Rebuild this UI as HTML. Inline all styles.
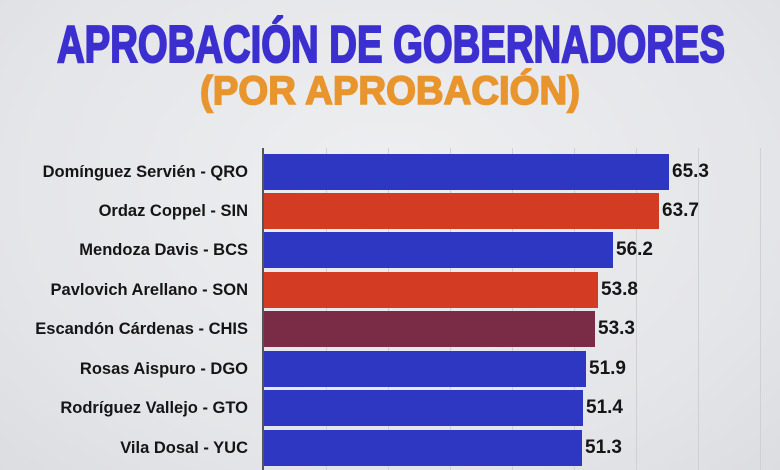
<!DOCTYPE html>
<html><head><meta charset="utf-8"><style>
body{margin:0;width:780px;height:470px;overflow:hidden;background:radial-gradient(ellipse at 50% 40%,#eeeff1 0%,#e4e5e8 70%,#dcdde1 100%);font-family:"Liberation Sans",sans-serif;position:relative}
.lab{position:absolute;right:532px;font-weight:bold;font-size:16.5px;color:#151515;white-space:nowrap;line-height:20px}
.bar{position:absolute;left:264px;height:36px}
.v{position:absolute;font-weight:bold;font-size:19px;color:#151515;line-height:22px}
.g{position:absolute;top:148px;width:1px;height:322px;background:#cfd0d6}
</style></head><body>
<svg style="position:absolute;left:0;top:0" width="780" height="120">
<text x="57" y="62" textLength="668" lengthAdjust="spacingAndGlyphs" font-family="Liberation Sans" font-weight="bold" font-size="52" fill="#3c2fcf" stroke="#3c2fcf" stroke-width="2">APROBACIÓN DE GOBERNADORES</text>
<text x="200" y="104" textLength="380" lengthAdjust="spacingAndGlyphs" font-family="Liberation Sans" font-weight="bold" font-size="40" fill="#e8952e" stroke="#e8952e" stroke-width="1.6">(POR APROBACIÓN)</text>
</svg>
<div style="position:absolute;left:262px;top:148px;width:2px;height:322px;background:#555"></div>
<div class="g" style="left:326px"></div><div class="g" style="left:388px"></div><div class="g" style="left:450px"></div><div class="g" style="left:512px"></div><div class="g" style="left:574px"></div><div class="g" style="left:636px"></div><div class="g" style="left:698px"></div><div class="g" style="left:760px"></div>

<div class="bar" style="top:154px;width:405px;background:#2e37c2"></div><div class="v" style="top:161px;left:672px">65.3</div><div class="lab" style="top:162px">Domínguez Servién - QRO</div>
<div class="bar" style="top:193px;width:395px;background:#d33b22"></div><div class="v" style="top:200px;left:662px">63.7</div><div class="lab" style="top:201px">Ordaz Coppel - SIN</div>
<div class="bar" style="top:232px;width:349px;background:#2e37c2"></div><div class="v" style="top:239px;left:616px">56.2</div><div class="lab" style="top:240px">Mendoza Davis - BCS</div>
<div class="bar" style="top:272px;width:334px;background:#d33b22"></div><div class="v" style="top:279px;left:601px">53.8</div><div class="lab" style="top:280px">Pavlovich Arellano - SON</div>
<div class="bar" style="top:311px;width:331px;background:#7a2b46"></div><div class="v" style="top:318px;left:598px">53.3</div><div class="lab" style="top:319px">Escandón Cárdenas - CHIS</div>
<div class="bar" style="top:351px;width:322px;background:#2e37c2"></div><div class="v" style="top:358px;left:589px">51.9</div><div class="lab" style="top:359px">Rosas Aispuro - DGO</div>
<div class="bar" style="top:390px;width:319px;background:#2e37c2"></div><div class="v" style="top:397px;left:586px">51.4</div><div class="lab" style="top:398px">Rodríguez Vallejo - GTO</div>
<div class="bar" style="top:430px;width:318px;background:#2e37c2"></div><div class="v" style="top:437px;left:585px">51.3</div><div class="lab" style="top:438px">Vila Dosal - YUC</div>
</body></html>
